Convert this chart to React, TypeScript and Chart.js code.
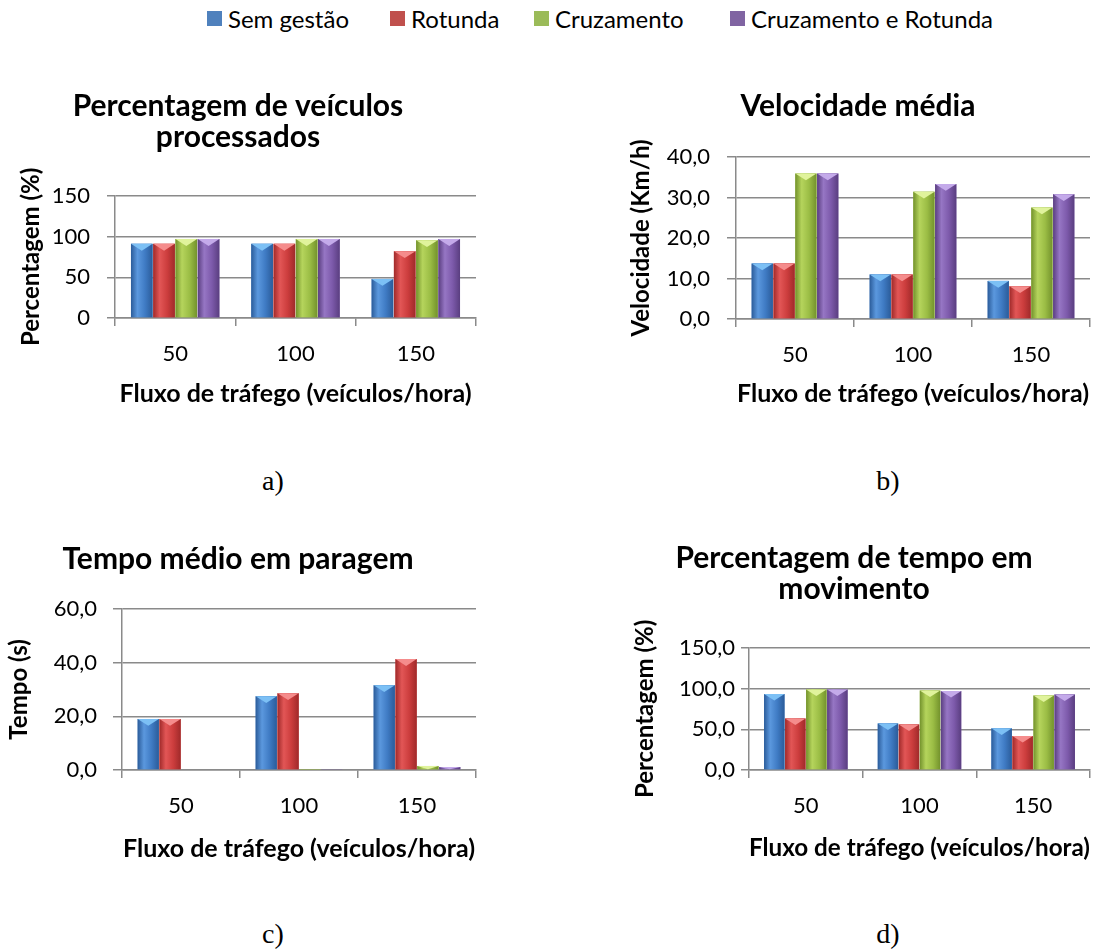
import React, { useEffect, useRef } from "react";
import { Chart, registerables } from "chart.js";
Chart.register(...registerables);

// ---------- data ----------
const CATEGORIES = ["50", "100", "150"];
const SERIES_NAMES = ["Sem gestão", "Rotunda", "Cruzamento", "Cruzamento e Rotunda"];
const X_TITLE = "Fluxo de tráfego (veículos/hora)";

// a) Percentagem de veículos processados
const A_SEM_GESTAO = [91, 91, 48];
const A_ROTUNDA = [91, 91, 82];
const A_CRUZAMENTO = [97, 97, 95.5];
const A_CRUZ_ROT = [97, 97, 97];
const A_TICKS = [0, 50, 100, 150];

// b) Velocidade média
const B_SEM_GESTAO = [13.7, 11.0, 9.4];
const B_ROTUNDA = [13.7, 11.0, 8.1];
const B_CRUZAMENTO = [35.9, 31.4, 27.5];
const B_CRUZ_ROT = [35.9, 33.3, 30.8];
const B_TICKS = [0, 10, 20, 30, 40];

// c) Tempo médio em paragem
const C_SEM_GESTAO = [19.0, 27.5, 31.6];
const C_ROTUNDA = [19.0, 28.6, 41.3];
const C_CRUZAMENTO = [0, 0.1, 1.5];
const C_CRUZ_ROT = [0, 0.2, 1.1];
const C_TICKS = [0, 20, 40, 60];

// d) Percentagem de tempo em movimento
const D_SEM_GESTAO = [93.2, 57.2, 51.1];
const D_ROTUNDA = [63.3, 56.0, 41.7];
const D_CRUZAMENTO = [98.9, 97.7, 91.5];
const D_CRUZ_ROT = [98.9, 96.9, 92.8];
const D_TICKS = [0, 50, 100, 150];

// ---------- styles ----------
const LEGEND_COLORS = ["#4F81BD", "#C0504D", "#9BBB59", "#8064A2"];
const PALETTE = [
  { dark: "#2b5c9a", light: "#5b98de", mid: "#3f7bc4", cap: "#7cc0f5" },
  { dark: "#a02a2a", light: "#e25656", mid: "#cc3d3d", cap: "#f58c8c" },
  { dark: "#73922c", light: "#b5d45c", mid: "#9bbd45", cap: "#e0f39c" },
  { dark: "#5a3e80", light: "#9676c4", mid: "#7d5aab", cap: "#c4aaea" },
];
const GRID = "#8a8a8a";
const FONT = "Lato";

const bevelPlugin = {
  id: "bevel",
  afterDatasetsDraw(chart: any) {
    const ctx = chart.ctx;
    chart.data.datasets.forEach((_ds: any, di: number) => {
      const meta = chart.getDatasetMeta(di);
      const pal = PALETTE[di];
      meta.data.forEach((el: any) => {
        const { x, y, base, width } = el.getProps(["x", "y", "base", "width"], true);
        const left = x - width / 2;
        const right = x + width / 2;
        const top = Math.min(y, base);
        const bottom = Math.max(y, base);
        const h = bottom - top;
        if (h < 0.5) return;
        ctx.save();
        const g = ctx.createLinearGradient(left, 0, right, 0);
        g.addColorStop(0, pal.dark);
        g.addColorStop(0.3, pal.light);
        g.addColorStop(0.65, pal.mid);
        g.addColorStop(1, pal.dark);
        ctx.fillStyle = g;
        ctx.fillRect(left, top, width, h);
        const th = Math.min(width * 0.32, h);
        ctx.beginPath();
        ctx.moveTo(left, top);
        ctx.lineTo(right, top);
        ctx.lineTo(x, top + th);
        ctx.closePath();
        ctx.fillStyle = pal.cap;
        ctx.fill();
        ctx.restore();
      });
    });
  },
};

type Panel = {
  title: string | string[];
  yTitle: string;
  series: number[][];
  ticks: number[];
  decimals: number;
  left: number;
  top: number;
  width: number;
  height: number;
  padRight: number;
  titleTop: number;
  titleBottom: number;
  yWidth: number;
  yTitleTop: number;
  tickLen: number;
  tickPad: number;
  xTitleBottom: number;
};

const PANELS: Panel[] = [
  {
    title: ["Percentagem de veículos", "processados"],
    yTitle: "Percentagem (%)",
    series: [A_SEM_GESTAO, A_ROTUNDA, A_CRUZAMENTO, A_CRUZ_ROT],
    ticks: A_TICKS,
    decimals: 0,
    left: 0, top: 80, width: 478, height: 338, padRight: 2,
    titleTop: 10.5, titleBottom: 43.5,
    yWidth: 115, yTitleTop: 19, tickLen: 8, tickPad: 17, xTitleBottom: 9,
  },
  {
    title: "Velocidade média",
    yTitle: "Velocidade (Km/h)",
    series: [B_SEM_GESTAO, B_ROTUNDA, B_CRUZAMENTO, B_CRUZ_ROT],
    ticks: B_TICKS,
    decimals: 1,
    left: 626, top: 80, width: 466, height: 339, padRight: 2,
    titleTop: 10.5, titleBottom: 35.5,
    yWidth: 110, yTitleTop: 3, tickLen: 9, tickPad: 17, xTitleBottom: 10,
  },
  {
    title: "Tempo médio em paragem",
    yTitle: "Tempo (s)",
    series: [C_SEM_GESTAO, C_ROTUNDA, C_CRUZAMENTO, C_CRUZ_ROT],
    ticks: C_TICKS,
    decimals: 1,
    left: 0, top: 530, width: 480, height: 340, padRight: 4,
    titleTop: 14, titleBottom: 34,
    yWidth: 122, yTitleTop: 7, tickLen: 9, tickPad: 16, xTitleBottom: 6.5,
  },
  {
    title: ["Percentagem de tempo em", "movimento"],
    yTitle: "Percentagem (%)",
    series: [D_SEM_GESTAO, D_ROTUNDA, D_CRUZAMENTO, D_CRUZ_ROT],
    ticks: D_TICKS,
    decimals: 1,
    left: 618, top: 530, width: 474, height: 340, padRight: 2,
    titleTop: 13, titleBottom: 43,
    yWidth: 131, yTitleTop: 15, tickLen: 8, tickPad: 6, xTitleBottom: 7.5,
  },
];

function BarPanel({ p }: { p: Panel }) {
  const ref = useRef<HTMLCanvasElement | null>(null);
  useEffect(() => {
    if (!ref.current) return;
    const chart = new Chart(ref.current, {
      type: "bar",
      data: {
        labels: CATEGORIES,
        datasets: p.series.map((vals, i) => ({
          label: SERIES_NAMES[i],
          data: vals,
          backgroundColor: PALETTE[i].mid,
          borderWidth: 0,
          categoryPercentage: 0.74,
          barPercentage: 0.97,
        })),
      },
      options: {
        responsive: false,
        animation: false,
        devicePixelRatio: 1,
        layout: { padding: { left: 0, right: p.padRight, top: 0, bottom: 0 } },
        plugins: {
          legend: { display: false },
          tooltip: { enabled: false },
          title: {
            display: true,
            text: p.title,
            color: "#000",
            font: { family: FONT, size: 30, weight: "bold", lineHeight: 1.03 },
            padding: { top: p.titleTop, bottom: p.titleBottom },
          },
        },
        scales: {
          x: {
            type: "category",
            grid: {
              display: true,
              drawOnChartArea: false,
              drawTicks: true,
              tickLength: 8,
              offset: true,
              color: GRID,
              lineWidth: 1.5,
            },
            border: { display: true, color: GRID, width: 1.5 },
            ticks: { padding: 15, color: "#000", font: { family: FONT, size: 22 } },
            title: {
              display: true,
              text: X_TITLE,
              color: "#000",
              font: { family: FONT, size: 25, weight: "bold", lineHeight: 1.2 },
              padding: { top: 0, bottom: p.xTitleBottom },
            },
            afterFit: (s: any) => {
              s.height = 100;
            },
          },
          y: {
            min: p.ticks[0],
            max: p.ticks[p.ticks.length - 1],
            afterBuildTicks: (s: any) => {
              s.ticks = p.ticks.map((v) => ({ value: v }));
            },
            grid: { color: GRID, lineWidth: 1.5, drawTicks: true, tickLength: p.tickLen },
            border: { display: true, color: GRID, width: 1.5 },
            ticks: {
              padding: p.tickPad,
              color: "#000",
              font: { family: FONT, size: 22 },
              callback: (v: any) => Number(v).toFixed(p.decimals).replace(".", ","),
            },
            title: {
              display: true,
              text: p.yTitle,
              color: "#000",
              font: { family: FONT, size: 24, weight: "bold", lineHeight: 1 },
              padding: { top: p.yTitleTop, bottom: 0 },
            },
            afterFit: (s: any) => {
              s.width = p.yWidth;
            },
          },
        },
      } as any,
      plugins: [bevelPlugin],
    });
    return () => chart.destroy();
  }, [p]);
  return (
    <canvas
      ref={ref}
      width={p.width}
      height={p.height}
      style={{ position: "absolute", left: p.left, top: p.top, width: p.width, height: p.height }}
    />
  );
}

const LEGEND_X = [207, 390, 534, 730];
const PANEL_LABELS = [
  { text: "a)", x: 273, y: 481 },
  { text: "b)", x: 888, y: 481 },
  { text: "c)", x: 273, y: 934 },
  { text: "d)", x: 888, y: 934 },
];

export default function App() {
  return (
    <div
      style={{
        position: "fixed",
        left: 0,
        top: 0,
        width: 1115,
        height: 949,
        background: "#fff",
        overflow: "hidden",
      }}
    >
      {SERIES_NAMES.map((name, i) => (
        <div
          key={name}
          style={{
            position: "absolute",
            left: LEGEND_X[i],
            top: 4,
            height: 28,
            display: "flex",
            alignItems: "center",
            whiteSpace: "nowrap",
            fontFamily: FONT,
            fontSize: 24,
            color: "#000",
          }}
        >
          <span
            style={{
              display: "inline-block",
              width: 15,
              height: 15,
              background: LEGEND_COLORS[i],
              marginRight: 6,
            }}
          />
          {name}
        </div>
      ))}
      {PANELS.map((p, i) => (
        <BarPanel key={i} p={p} />
      ))}
      {PANEL_LABELS.map((l) => (
        <div
          key={l.text}
          style={{
            position: "absolute",
            left: l.x,
            top: l.y,
            transform: "translate(-50%, -50%)",
            fontFamily: "'Liberation Serif', 'Times New Roman', serif",
            fontSize: 28,
            lineHeight: 1,
            color: "#000",
          }}
        >
          {l.text}
        </div>
      ))}
    </div>
  );
}
